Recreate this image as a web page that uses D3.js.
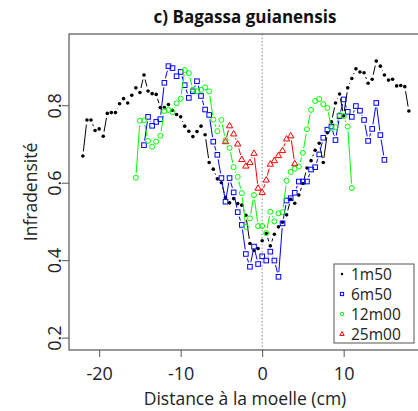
<!DOCTYPE html>
<html>
<head>
<meta charset="utf-8">
<script src="https://cdn.jsdelivr.net/npm/d3@7"></script>
<style>
    body { margin: 0; background: #fff; }
    svg { display: block; }
</style>
</head>
<body>
<div id="density-graph"></div>
<script>
// distance to pith (cm) and infradensity, one pair of arrays per height
const pos1m50 = [-22, -21.5, -21, -20.5, -20, -19.5, -19, -18.5, -18, -17.5, -17, -16.5, -16, -15.5, -15, -14.5, -14, -13.5, -13, -12.5, -12, -11.5, -11, -10.5, -10, -9.5, -9, -8.5, -8, -7.5, -7, -6.5, -6, -5.5, -5, -4.5, -4, -3.5, -3, -2.5, -2, -1.5, -1, -0.5, 0, 0.5, 1, 1.5, 2, 2.5, 3, 3.5, 4, 4.5, 5, 5.5, 6, 6.5, 7, 7.5, 8, 8.5, 9, 9.5, 10, 10.5, 11, 11.5, 12, 12.5, 13, 13.5, 14, 14.5, 15, 15.5, 16, 16.5, 17, 17.5, 18];
const inf1m50 = [0.669, 0.762, 0.762, 0.735, 0.739, 0.72, 0.779, 0.781, 0.781, 0.804, 0.817, 0.806, 0.826, 0.845, 0.833, 0.878, 0.837, 0.83, 0.828, 0.794, 0.794, 0.802, 0.787, 0.776, 0.77, 0.746, 0.733, 0.719, 0.732, 0.746, 0.724, 0.652, 0.635, 0.61, 0.60, 0.562, 0.548, 0.559, 0.546, 0.542, 0.516, 0.443, 0.425, 0.43, 0.45, 0.469, 0.437, 0.467, 0.486, 0.498, 0.517, 0.557, 0.547, 0.568, 0.598, 0.638, 0.657, 0.684, 0.702, 0.652, 0.729, 0.757, 0.806, 0.829, 0.773, 0.845, 0.869, 0.894, 0.886, 0.884, 0.857, 0.867, 0.914, 0.901, 0.878, 0.865, 0.867, 0.85, 0.851, 0.848, 0.785];

const pos6m50 = [-14.5, -14, -13.5, -13, -12.5, -12, -11.5, -11, -10.5, -10, -9.5, -9, -8.5, -8, -7.5, -7, -6.5, -6, -5.5, -5, -4.5, -4, -3.5, -3, -2.5, -2, -1.5, -1, -0.5, 0, 0.5, 1, 1.5, 2, 2.5, 3, 3.5, 4, 4.5, 5, 5.5, 6, 6.5, 7, 7.5, 8, 8.5, 9, 9.5, 10, 10.5, 11, 11.5, 12, 12.5, 13, 13.5, 14, 14.5, 15];
const inf6m50 = [0.697, 0.77, 0.747, 0.757, 0.764, 0.858, 0.901, 0.896, 0.875, 0.886, 0.852, 0.819, 0.836, 0.862, 0.824, 0.789, 0.775, 0.706, 0.672, 0.612, 0.551, 0.612, 0.575, 0.524, 0.491, 0.416, 0.383, 0.435, 0.39, 0.41, 0.399, 0.422, 0.399, 0.357, 0.495, 0.554, 0.56, 0.574, 0.603, 0.603, 0.603, 0.634, 0.64, 0.673, 0.716, 0.737, 0.745, 0.71, 0.772, 0.815, 0.783, 0.77, 0.798, 0.786, 0.762, 0.708, 0.739, 0.806, 0.723, 0.659];

const pos12m00 = [-15.5, -15, -14.5, -14, -13.5, -13, -12.5, -12, -11.5, -11, -10.5, -10, -9.5, -9, -8.5, -8, -7.5, -7, -6.5, -6, -5.5, -5, -4.5, -4, -3.5, -3, -2.5, -2, -1.5, -1, -0.5, 0, 0.5, 1, 1.5, 2, 2.5, 3, 3.5, 4, 4.5, 5, 5.5, 6, 6.5, 7, 7.5, 8, 8.5, 9, 9.5, 10, 10.5, 11];
const inf12m00 = [0.613, 0.76, 0.761, 0.708, 0.693, 0.706, 0.721, 0.785, 0.788, 0.782, 0.805, 0.817, 0.891, 0.883, 0.84, 0.836, 0.84, 0.846, 0.836, 0.763, 0.733, 0.762, 0.71, 0.69, 0.64, 0.615, 0.573, 0.486, 0.508, 0.568, 0.488, 0.488, 0.47, 0.525, 0.5, 0.521, 0.524, 0.605, 0.628, 0.636, 0.642, 0.677, 0.738, 0.788, 0.811, 0.816, 0.803, 0.793, 0.741, 0.743, 0.775, 0.772, 0.745, 0.586];

const pos25m00 = [-4.5, -4, -3.5, -3, -2.5, -2, -1.5, -1, -0.5, 0, 0.5, 1, 1.5, 2, 2.5, 3, 3.5, 4];
const inf25m00 = [0.706, 0.747, 0.726, 0.70, 0.66, 0.643, 0.652, 0.676, 0.586, 0.575, 0.607, 0.648, 0.657, 0.67, 0.683, 0.713, 0.721, 0.649];

const seriesNames = ["1m50", "6m50", "12m00", "25m00"];
const xTicks = [-20, -10, 0, 10];
const yTicks = [0.2, 0.4, 0.6, 0.8];

const densityChart = (function () {
    const W = 418, H = 411;
    const margins = { top: 34, left: 69, bottom: 61 };
    const height = H - margins.top - margins.bottom;

    const svg = d3.select("#density-graph").append("svg")
        .attr("width", W)
        .attr("height", H);

    const xScale = d3.scaleLinear().domain([-23.7, 20.2]).range([margins.left, margins.left + 357.8]);
    const yScale = d3.scaleLinear().domain([0.168, 0.984]).range([margins.top + height, margins.top]);

    const series = [
        { name: seriesNames[0], xs: pos1m50, ys: inf1m50, color: "#000000", pch: "dot" },
        { name: seriesNames[1], xs: pos6m50, ys: inf6m50, color: "#0000ff", pch: "square" },
        { name: seriesNames[2], xs: pos12m00, ys: inf12m00, color: "#00ff00", pch: "circle" },
        { name: seriesNames[3], xs: pos25m00, ys: inf25m00, color: "#ff0000", pch: "triangle" }
    ];

    const plot = svg.append("g");

    // dotted line at the pith
    plot.append("line")
        .attr("x1", xScale(0)).attr("x2", xScale(0))
        .attr("y1", yScale.range()[1]).attr("y2", yScale.range()[0])
        .attr("stroke", "#888")
        .attr("stroke-width", 1)
        .attr("stroke-dasharray", "1.5,2");

    function drawMarker(g, pch, color, cx, cy, k) {
        if (pch === "dot") {
            g.append("circle").attr("cx", cx).attr("cy", cy).attr("r", 1.8 * k).attr("fill", color);
        } else if (pch === "square") {
            const s = 4.6 * k;
            g.append("rect").attr("x", cx - s / 2).attr("y", cy - s / 2).attr("width", s).attr("height", s)
                .attr("fill", "none").attr("stroke", color).attr("stroke-width", 1);
        } else if (pch === "circle") {
            g.append("circle").attr("cx", cx).attr("cy", cy).attr("r", 2.5 * k)
                .attr("fill", "none").attr("stroke", color).attr("stroke-width", 1);
        } else {
            const r = 3.4 * k;
            g.append("path")
                .attr("d", "M" + cx + "," + (cy - r) + "L" + (cx + r * 0.93) + "," + (cy + r * 0.6) + "L" + (cx - r * 0.93) + "," + (cy + r * 0.6) + "Z")
                .attr("fill", "none").attr("stroke", color).attr("stroke-width", 1);
        }
    }

    // type = "b": segments with a gap around each point
    const gap = 4.6;
    series.forEach(function (s) {
        const g = plot.append("g").attr("class", "series");
        const pts = s.xs.map(function (x, i) { return [xScale(x), yScale(s.ys[i])]; });
        for (let i = 1; i < pts.length; i++) {
            const dx = pts[i][0] - pts[i - 1][0], dy = pts[i][1] - pts[i - 1][1];
            const len = Math.sqrt(dx * dx + dy * dy);
            if (len <= 2 * gap) continue;
            const ux = dx / len, uy = dy / len;
            g.append("line")
                .attr("x1", pts[i - 1][0] + ux * gap).attr("y1", pts[i - 1][1] + uy * gap)
                .attr("x2", pts[i][0] - ux * gap).attr("y2", pts[i][1] - uy * gap)
                .attr("stroke", s.color)
                .attr("stroke-width", 1);
        }
        pts.forEach(function (p) { drawMarker(g, s.pch, s.color, p[0], p[1], 1); });
    });

    // box
    const x0 = xScale.range()[0], x1 = xScale.range()[1];
    const y0 = yScale.range()[1], y1 = yScale.range()[0];
    svg.append("rect")
        .attr("x", x0).attr("y", y0)
        .attr("width", x1 - x0).attr("height", y1 - y0)
        .attr("fill", "none").attr("stroke", "#555").attr("stroke-width", 1.2);

    svg.append("g")
        .attr("class", "x-axis")
        .attr("transform", "translate(0," + y1 + ")")
        .call(d3.axisBottom(xScale).tickValues(xTicks).tickSize(7).tickPadding(10).tickFormat(function (d) { return String(d); }))
        .call(function (g) { g.select(".domain").remove(); })
        .call(function (g) { g.selectAll("line").attr("stroke", "#555"); })
        .selectAll("text")
        .style("font-family", "Open Sans")
        .style("font-size", "18px")
        .attr("fill", "#222");

    const yAxis = svg.append("g")
        .attr("class", "y-axis")
        .attr("transform", "translate(" + x0 + ",0)")
        .call(d3.axisLeft(yScale).tickValues(yTicks).tickSize(7).tickFormat(d3.format(".1f")))
        .call(function (g) { g.select(".domain").remove(); })
        .call(function (g) { g.selectAll("line").attr("stroke", "#555"); });
    yAxis.selectAll("text")
        .attr("x", null).attr("dy", null)
        .attr("text-anchor", "middle")
        .attr("transform", "translate(-8,0) rotate(-90)")
        .style("font-family", "Open Sans")
        .style("font-size", "18px")
        .attr("fill", "#222");

    svg.append("text") // title
        .text("c) Bagassa guianensis")
        .attr("text-anchor", "middle")
        .attr("x", 245)
        .attr("y", 23)
        .style("font-family", "Open Sans")
        .style("font-weight", "bold")
        .style("font-size", "17px")
        .attr("fill", "#111");

    svg.append("text") // x axis label
        .text("Distance à la moelle (cm)")
        .attr("text-anchor", "middle")
        .attr("x", 245)
        .attr("y", 405)
        .style("font-family", "Open Sans")
        .style("font-size", "17.5px")
        .attr("fill", "#222");

    svg.append("text") // y axis label
        .text("Infradensité")
        .attr("text-anchor", "middle")
        .attr("transform", "translate(37," + ((y0 + y1) / 2) + ") rotate(-90)")
        .style("font-family", "Open Sans")
        .style("font-size", "17.5px")
        .attr("fill", "#222");

    // legend
    const leg = svg.append("g").attr("transform", "translate(334,264)");
    leg.append("rect")
        .attr("width", 80).attr("height", 79)
        .attr("fill", "#fff").attr("stroke", "#555").attr("stroke-width", 1);
    series.forEach(function (s, i) {
        const cy = 10 + i * 20;
        drawMarker(leg, s.pch, s.color, 8, cy, 0.7);
        leg.append("text")
            .text(s.name)
            .attr("x", 17)
            .attr("y", cy)
            .attr("dy", "0.36em")
            .style("font-family", "Open Sans")
            .style("font-size", "15.5px")
            .attr("fill", "#222");
    });

    return { svg: svg };
})();
</script>
</body>
</html>
